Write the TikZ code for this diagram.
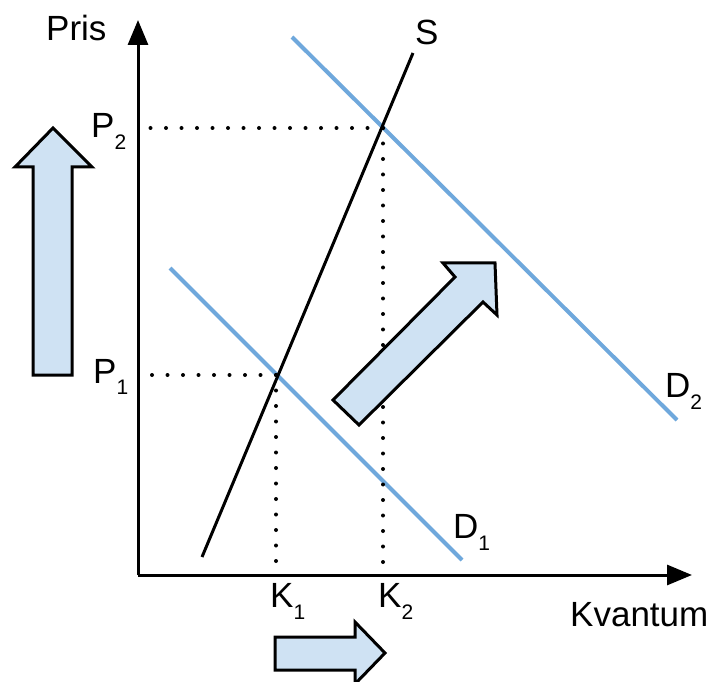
\documentclass[tikz,border=0pt]{standalone}
\usepackage{fontspec}
\setmainfont{Liberation Sans}
\usepackage{xcolor}
\definecolor{dblue}{RGB}{111,168,220}
\definecolor{afill}{RGB}{207,226,243}
\usetikzlibrary{arrows.meta,positioning}
\newcommand{\subtxt}[1]{\raisebox{-12pt}{\fontsize{21}{21}\selectfont #1}}

\begin{document}
\begin{tikzpicture}[x=1pt, y=-1pt,
    axis/.style={line width=3pt, -{Triangle[width=20pt, length=25pt]}},
    supply/.style={line width=3pt, black},
    demand/.style={line width=4pt, dblue},
    guide/.style={line width=4pt, line cap=round, dash pattern=on 0pt off 15.5pt},
    shiftarrow/.style={line width=3pt, draw=black, fill=afill, line join=miter},
    lbl/.style={inner sep=0pt, anchor=base west, font=\fontsize{35}{35}\selectfont}
  ]
    \useasboundingbox (0,0) rectangle (716,682);

    % Axes
    \coordinate (O)  at (138,575);
    \coordinate (ytop) at (138,20);
    \coordinate (xend) at (692,575);
    \draw[axis] (O) -- (ytop);
    \draw[axis] (O) -- (xend);

    % Supply and demand curves
    \coordinate (s0) at (202,557);
    \coordinate (s1) at (413,53);
    \coordinate (d1a) at (170,268);
    \coordinate (d1b) at (462,560);
    \coordinate (d2a) at (292,37);
    \coordinate (d2b) at (677,420);
    \draw[demand] (d1a) -- (d1b);
    \draw[demand] (d2a) -- (d2b);
    \draw[supply] (s0) -- (s1);

    % Equilibrium points and guide lines
    \coordinate (e1) at (276,375);
    \coordinate (e2) at (383,128);
    \coordinate (p1) at (149,375);
    \coordinate (p2) at (149,128);
    \coordinate (k1) at (276,563);
    \coordinate (k2) at (383,563);
    \draw[guide] (e1) -- (p1);
    \draw[guide] (e1) -- (k1);
    \draw[guide] (e2) -- (p2);
    \draw[guide] (e2) -- (k2);

    % Shift arrows
    \draw[shiftarrow] (33,375) -- (72,375) -- (72,167) -- (92,167) -- (53,128)
      -- (15,167) -- (33,167) -- cycle;
    \draw[shiftarrow] (275,637) -- (355,637) -- (355,622) -- (385,653) -- (355,684)
      -- (355,670) -- (275,670) -- cycle;
    \draw[shiftarrow] (333,400) -- (455,277) -- (443,263) -- (495,263) -- (497,315)
      -- (483,302) -- (359,425) -- cycle;

    % Labels
    \node[lbl] (pris) at (46,41)   {Pris};
    \node[lbl] (kvant) at (570,626) {Kvantum};
    \node[lbl] (lp2) at (91,138)   {P\subtxt{2}};
    \node[lbl] (lp1) at (93,383)   {P\subtxt{1}};
    \node[lbl] (lk1) at (270,607)  {K\subtxt{1}};
    \node[lbl] (lk2) at (378,607)  {K\subtxt{2}};
    \node[lbl] (ls)  at (415,45)   {S};
    \node[lbl] (ld1) at (453,538)  {D\subtxt{1}};
    \node[lbl] (ld2) at (665,397)  {D\subtxt{2}};
  \end{tikzpicture}
\end{document}
